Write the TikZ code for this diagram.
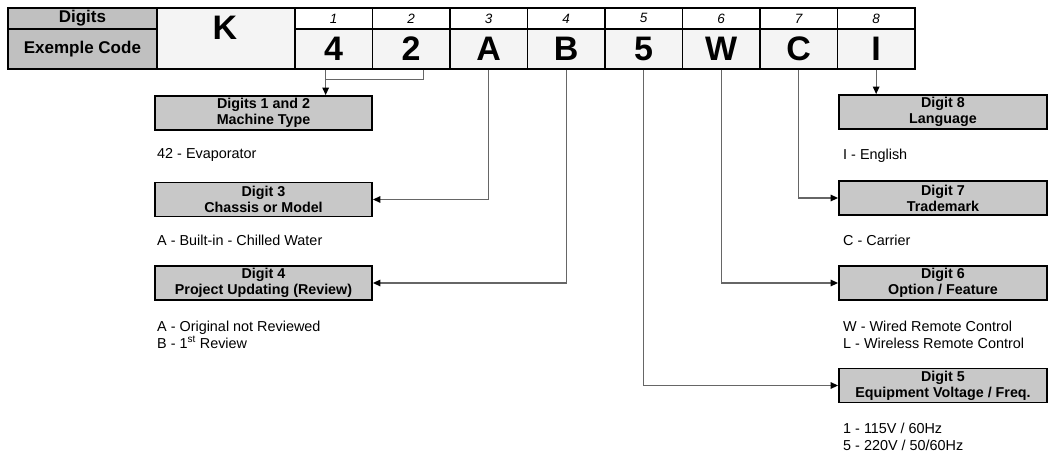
\documentclass[tikz,border=0pt]{standalone}
\usepackage{fontspec}
\setmainfont{Liberation Sans}
\usetikzlibrary{arrows.meta}
\definecolor{hdrgray}{HTML}{C0C0C0}
\definecolor{boxgray}{HTML}{C8C8C8}
\definecolor{cellwhite}{HTML}{F4F4F4}
\definecolor{linegray}{HTML}{666666}

\begin{document}
\begin{tikzpicture}[x=1pt,y=-1pt,
 cell/.style={draw,line width=1.8pt,inner sep=0pt,anchor=north west},
 hdr/.style={cell,fill=hdrgray,minimum width=149pt,font=\fontsize{17}{20}\selectfont\bfseries},
 num/.style={cell,fill=white,minimum width=77.5pt,minimum height=21pt,font=\fontsize{13.5}{15}\selectfont\itshape},
 code/.style={cell,fill=cellwhite,minimum width=77.5pt,minimum height=40pt,font=\fontsize{34}{40}\selectfont\bfseries},
 infobox/.style={draw,line width=1.8pt,fill=boxgray,minimum height=34pt,inner sep=0pt,align=center,font=\fontsize{14.3}{16}\selectfont\bfseries},
 desc/.style={anchor=west,inner sep=0pt,align=left,font=\fontsize{14.4}{17}\selectfont},
 wire/.style={linegray,line width=1.3pt},
 conn/.style={wire,-{Triangle[length=7.5pt,width=6.5pt,color=black]}}]
 \useasboundingbox (0,0) rectangle (1049,455);
 \node[hdr,minimum height=21pt] (dlab) at (7,7) {Digits};
 \node[hdr,minimum height=40pt] (elab) at (7,28) {Exemple Code};
 \node[cell,fill=cellwhite,minimum width=138pt,minimum height=61pt] (kcell) at (156,7) {};
 \node[font=\fontsize{34}{40}\selectfont\bfseries,inner sep=0pt] (k) at (225,27.5) {K};
 \node[num] (n1) at (294,7) {1}; \node[code] (c1) at (294,28) {4};
 \node[num] (n2) at (371.5,7) {2}; \node[code] (c2) at (371.5,28) {2};
 \node[num] (n3) at (449,7) {3}; \node[code] (c3) at (449,28) {A};
 \node[num] (n4) at (526.5,7) {4}; \node[code] (c4) at (526.5,28) {B};
 \node[num] (n5) at (604,7) {5}; \node[code] (c5) at (604,28) {5};
 \node[num] (n6) at (681.5,7) {6}; \node[code] (c6) at (681.5,28) {W};
 \node[num] (n7) at (759,7) {7}; \node[code] (c7) at (759,28) {C};
 \node[num] (n8) at (836.5,7) {8}; \node[code] (c8) at (836.5,28) {I};

 \node[infobox,minimum width=217pt] (b12) at (263.5,113) {Digits 1 and 2\\Machine Type};
 \node[infobox,minimum width=217pt] (b3) at (263.5,199.5) {Digit 3\\Chassis or Model};
 \node[infobox,minimum width=217pt] (b4) at (263.5,283) {Digit 4\\Project Updating (Review)};
 \node[infobox,minimum width=208pt] (b8) at (943,112) {Digit 8\\Language};
 \node[infobox,minimum width=208pt] (b7) at (943,198) {Digit 7\\Trademark};
 \node[infobox,minimum width=208pt] (b6) at (943,283) {Digit 6\\Option / Feature};
 \node[infobox,minimum width=208pt] (b5) at (943,385.5) {Digit 5\\Equipment Voltage / Freq.};

 \node[desc] (d12) at (157,155) {42 - Evaporator};
 \node[desc] (d3) at (157,240) {A - Built-in - Chilled Water};
 \node[desc] (d4) at (157,334.5) {A - Original not Reviewed\\B - 1\textsuperscript{st} Review};
 \node[desc] (d8) at (843,156) {I - English};
 \node[desc] (d7) at (843,240) {C - Carrier};
 \node[desc] (d6) at (843,335) {W - Wired Remote Control\\L - Wireless Remote Control};
 \node[desc] (d5) at (843,436.5) {1 - 115V / 60Hz\\5 - 220V / 50/60Hz};

 \coordinate (j1) at ([xshift=-8pt]c1.south); \coordinate (j2) at ([xshift=12pt]c2.south);
 \coordinate (jm) at ([yshift=-10pt]j1);
 \draw[wire] (j2) |- (jm);
 \draw[conn] (j1) -- (j1 |- b12.north);
 \draw[conn] (c3.south) |- (b3.east); \draw[conn] (c4.south) |- (b4.east);
 \draw[conn] (c5.south) |- (b5.west); \draw[conn] (c6.south) |- (b6.west);
 \draw[conn] (c7.south) |- (b7.west); \draw[conn] (c8.south) -- (c8.south |- b8.north);
\end{tikzpicture}
\end{document}
